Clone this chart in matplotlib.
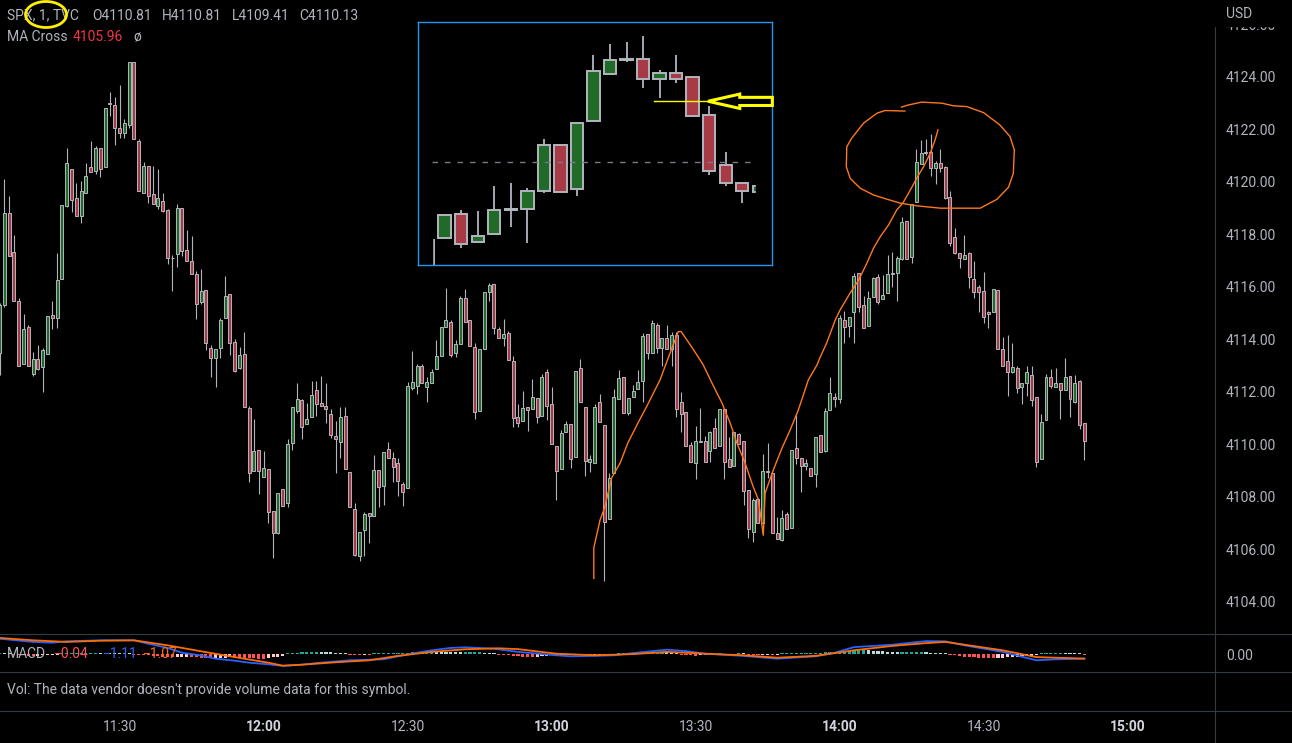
import numpy as np
import matplotlib.pyplot as plt
from matplotlib.patches import Rectangle, Ellipse, Polygon
from matplotlib.lines import Line2D

# 1-min SPX candles, first candle is 11:05 (minute 5 after 11:00)
first_minute = 5
opens = [
    4113.50, 4115.31, 4118.81, 4117.32, 4115.48, 4113.07, 4114.46, 4112.69, 4113.26, 4112.94,
    4113.44, 4114.93, 4114.81, 4116.29, 4119.10, 4120.50, 4119.38, 4118.72, 4119.59, 4120.58,
    4120.43, 4121.28, 4120.58, 4122.95, 4122.93, 4122.04, 4121.88, 4122.15, 4124.56, 4121.57,
    4119.59, 4120.61, 4119.54, 4119.10, 4119.28, 4118.93, 4117.12, 4117.24, 4119.00, 4117.41,
    4116.99, 4116.50, 4115.42, 4115.89, 4113.69, 4113.28, 4113.66, 4114.81, 4115.72, 4113.89,
    4112.90, 4113.45, 4111.40, 4108.99, 4109.79, 4108.75, 4109.07, 4107.47, 4106.64, 4108.29,
    4107.76, 4110.04, 4111.29, 4111.69, 4110.77, 4111.04, 4112.08, 4111.57, 4111.47, 4111.16,
    4110.32, 4110.11, 4111.09, 4108.94, 4107.53, 4105.75, 4106.74, 4107.40, 4107.29, 4109.03,
    4108.43, 4109.83, 4109.47, 4109.28, 4108.50, 4108.33, 4112.14, 4112.24, 4112.99, 4112.20,
    4112.33, 4112.86, 4113.37, 4114.49, 4114.65, 4113.47, 4113.83, 4115.57, 4114.74, 4113.70,
    4111.28, 4113.63, 4115.79, 4116.11, 4114.39, 4114.07, 4114.24, 4113.18, 4111.04, 4110.91,
    4111.42, 4111.34, 4111.76, 4111.10, 4112.75, 4111.53, 4109.94, 4109.05, 4110.46, 4110.77,
    4109.51, 4112.90, 4111.42, 4109.32, 4109.31, 4111.60, 4110.74, 4107.15, 4108.90, 4111.73,
    4112.56, 4111.21, 4111.80, 4112.10, 4112.43, 4114.20, 4113.50, 4114.55, 4113.66, 4114.04,
    4113.63, 4114.17, 4111.60, 4111.23, 4109.98, 4109.28, 4110.14, 4110.14, 4109.75, 4110.62,
    4109.96, 4111.34, 4109.43, 4109.18, 4110.39, 4110.13, 4108.27, 4106.68, 4107.91, 4107.02,
    4108.96, 4108.93, 4106.64, 4106.36, 4107.34, 4106.81, 4109.88, 4109.47, 4109.19, 4109.09,
    4108.86, 4110.36, 4109.75, 4111.31, 4111.80, 4111.72, 4114.74, 4114.53, 4115.06, 4116.52,
    4115.31, 4114.53, 4115.63, 4116.37, 4115.53, 4115.76, 4116.50, 4116.52, 4117.07, 4118.50,
    4117.13, 4119.23, 4120.67, 4121.09, 4121.13, 4120.52, 4120.71, 4120.58, 4119.42, 4117.89,
    4117.31, 4117.05, 4117.28, 4116.30, 4115.99, 4115.85, 4115.04, 4115.04, 4115.89, 4113.64,
    4113.18, 4112.77, 4112.93, 4112.20, 4112.33, 4112.65, 4111.80, 4109.43, 4110.93, 4112.56,
    4112.20, 4112.33, 4112.08, 4112.61, 4111.61, 4112.42, 4110.81,
]
highs = [
    4115.38, 4120.11, 4119.47, 4117.98, 4115.57, 4114.97, 4114.55, 4113.51, 4113.77, 4113.66,
    4114.90, 4115.48, 4117.28, 4119.12, 4121.31, 4120.50, 4119.95, 4120.04, 4120.74, 4121.57,
    4121.35, 4121.31, 4122.81, 4123.44, 4123.25, 4123.70, 4122.40, 4124.56, 4124.56, 4121.63,
    4120.77, 4120.61, 4120.61, 4120.50, 4119.57, 4118.96, 4117.22, 4119.16, 4119.00, 4118.17,
    4117.94, 4116.62, 4116.69, 4115.89, 4113.77, 4113.64, 4114.81, 4116.42, 4115.72, 4114.02,
    4113.70, 4114.30, 4111.47, 4110.97, 4109.79, 4109.75, 4109.07, 4107.47, 4108.14, 4108.29,
    4110.20, 4111.42, 4112.33, 4111.72, 4111.57, 4112.42, 4112.42, 4112.61, 4112.33, 4111.34,
    4110.90, 4111.42, 4111.42, 4108.94, 4107.76, 4106.65, 4107.44, 4107.40, 4109.60, 4109.03,
    4109.70, 4110.08, 4109.73, 4109.47, 4108.58, 4112.39, 4113.56, 4113.05, 4113.05, 4112.58,
    4112.86, 4113.98, 4114.47, 4115.95, 4114.74, 4113.98, 4115.66, 4115.91, 4114.74, 4113.86,
    4113.63, 4115.79, 4116.14, 4116.11, 4114.49, 4114.77, 4114.32, 4113.37, 4111.54, 4112.04,
    4111.42, 4112.50, 4111.76, 4112.69, 4112.86, 4112.18, 4109.94, 4110.55, 4110.90, 4110.77,
    4112.80, 4113.24, 4111.42, 4109.60, 4111.53, 4111.92, 4110.74, 4108.93, 4112.10, 4112.84,
    4112.56, 4111.76, 4112.27, 4112.84, 4114.24, 4114.20, 4114.74, 4114.62, 4114.07, 4114.55,
    4114.30, 4114.30, 4112.01, 4111.23, 4110.11, 4110.70, 4111.38, 4110.32, 4110.52, 4111.00,
    4111.34, 4111.34, 4110.30, 4110.49, 4110.45, 4110.13, 4108.27, 4107.95, 4107.95, 4109.62,
    4110.04, 4108.93, 4107.25, 4107.50, 4107.41, 4109.79, 4111.12, 4109.47, 4109.44, 4109.09,
    4110.30, 4110.36, 4111.40, 4112.58, 4111.95, 4114.93, 4115.10, 4114.87, 4116.52, 4116.52,
    4115.66, 4115.85, 4116.37, 4116.50, 4116.46, 4117.22, 4117.32, 4117.18, 4118.68, 4118.50,
    4119.16, 4121.24, 4121.60, 4121.64, 4121.82, 4120.80, 4121.24, 4120.61, 4119.67, 4118.26,
    4117.31, 4117.98, 4117.32, 4116.99, 4116.08, 4116.56, 4115.09, 4115.91, 4115.89, 4114.08,
    4114.17, 4113.85, 4112.99, 4112.33, 4112.99, 4113.00, 4111.80, 4111.16, 4112.69, 4112.86,
    4112.90, 4112.33, 4113.28, 4112.61, 4112.65, 4112.46, 4110.81,
]
lows = [
    4112.65, 4115.25, 4117.19, 4115.48, 4113.00, 4113.07, 4113.00, 4112.61, 4112.84, 4112.01,
    4113.44, 4114.39, 4114.43, 4116.29, 4119.06, 4118.87, 4118.72, 4118.45, 4119.59, 4120.39,
    4120.30, 4120.17, 4120.58, 4122.53, 4121.41, 4121.66, 4121.66, 4122.07, 4121.63, 4119.67,
    4119.59, 4119.21, 4119.15, 4118.96, 4118.87, 4116.86, 4115.86, 4116.77, 4117.18, 4116.97,
    4116.48, 4114.77, 4115.35, 4113.60, 4112.56, 4112.18, 4113.28, 4114.81, 4113.39, 4112.75,
    4112.88, 4111.44, 4108.58, 4108.99, 4108.12, 4108.75, 4107.02, 4105.66, 4106.58, 4107.67,
    4107.63, 4109.79, 4111.21, 4110.20, 4110.77, 4111.04, 4111.10, 4111.48, 4110.83, 4110.24,
    4108.90, 4109.50, 4109.05, 4107.63, 4105.75, 4105.57, 4105.75, 4106.24, 4107.29, 4107.63,
    4107.70, 4109.50, 4108.58, 4108.05, 4107.67, 4108.33, 4112.08, 4111.92, 4112.36, 4111.63,
    4112.33, 4112.86, 4113.37, 4114.49, 4113.32, 4113.32, 4113.83, 4114.65, 4113.75, 4110.96,
    4111.28, 4113.63, 4115.48, 4114.20, 4114.05, 4113.75, 4113.22, 4110.68, 4110.68, 4110.91,
    4110.51, 4111.34, 4110.83, 4111.10, 4110.93, 4110.01, 4107.89, 4109.05, 4110.46, 4109.09,
    4109.51, 4111.60, 4108.78, 4108.94, 4109.31, 4110.87, 4104.78, 4107.15, 4108.90, 4111.73,
    4111.21, 4111.12, 4111.80, 4112.10, 4111.63, 4113.24, 4113.50, 4113.47, 4112.97, 4113.63,
    4112.97, 4111.04, 4110.49, 4109.95, 4109.35, 4108.67, 4110.11, 4109.32, 4109.32, 4109.85,
    4109.96, 4108.68, 4109.16, 4109.18, 4110.02, 4107.70, 4106.43, 4106.30, 4107.02, 4106.55,
    4108.74, 4106.64, 4106.39, 4106.34, 4106.77, 4106.81, 4109.24, 4108.17, 4109.03, 4108.79,
    4108.39, 4109.73, 4109.73, 4111.31, 4111.44, 4111.57, 4113.88, 4114.08, 4113.85, 4115.04,
    4114.45, 4114.53, 4115.63, 4115.34, 4115.53, 4115.76, 4115.99, 4115.48, 4117.03, 4117.05,
    4116.93, 4119.23, 4120.67, 4121.03, 4120.24, 4119.92, 4120.39, 4119.35, 4117.57, 4117.24,
    4116.71, 4117.05, 4115.95, 4115.59, 4115.04, 4114.64, 4114.42, 4115.04, 4113.62, 4113.00,
    4111.85, 4112.71, 4111.97, 4111.53, 4111.85, 4111.47, 4109.13, 4109.43, 4110.93, 4112.14,
    4112.20, 4110.96, 4112.08, 4111.03, 4111.57, 4110.58, 4109.41,
]
closes = [
    4115.30, 4118.81, 4117.19, 4115.48, 4113.00, 4114.40, 4113.00, 4113.26, 4112.88, 4113.60,
    4114.90, 4114.81, 4116.27, 4119.12, 4120.71, 4119.31, 4118.72, 4119.66, 4120.23, 4120.39,
    4121.31, 4120.50, 4122.81, 4122.99, 4122.07, 4121.85, 4122.26, 4124.56, 4121.63, 4119.67,
    4120.61, 4119.48, 4119.15, 4119.38, 4118.91, 4117.12, 4117.10, 4119.00, 4117.35, 4116.97,
    4116.48, 4115.34, 4115.86, 4113.85, 4113.28, 4113.64, 4114.74, 4115.66, 4113.85, 4112.81,
    4113.41, 4111.44, 4108.93, 4109.75, 4108.99, 4109.09, 4107.44, 4106.64, 4108.14, 4107.67,
    4110.02, 4111.42, 4111.72, 4110.65, 4110.96, 4111.89, 4111.53, 4111.48, 4111.34, 4110.36,
    4110.20, 4111.06, 4109.05, 4107.63, 4105.79, 4106.65, 4107.34, 4107.29, 4109.03, 4108.39,
    4109.70, 4109.50, 4109.14, 4108.62, 4108.17, 4112.24, 4112.37, 4112.99, 4112.36, 4112.37,
    4112.75, 4113.37, 4114.47, 4114.74, 4113.41, 4113.83, 4115.57, 4114.65, 4113.75, 4111.25,
    4113.63, 4115.79, 4116.08, 4114.43, 4114.05, 4114.20, 4113.22, 4111.00, 4110.81, 4111.38,
    4111.31, 4111.80, 4111.06, 4112.56, 4111.48, 4110.01, 4109.00, 4110.42, 4110.77, 4109.44,
    4112.80, 4111.60, 4109.38, 4109.44, 4111.42, 4110.87, 4107.06, 4108.71, 4111.80, 4112.52,
    4111.21, 4111.76, 4112.05, 4112.39, 4114.13, 4113.47, 4114.62, 4113.66, 4114.04, 4113.63,
    4114.17, 4111.34, 4111.15, 4109.95, 4109.35, 4110.14, 4110.11, 4109.32, 4110.49, 4109.85,
    4111.34, 4109.35, 4109.16, 4110.49, 4110.02, 4108.24, 4106.77, 4107.89, 4107.02, 4108.99,
    4108.99, 4106.64, 4106.39, 4107.19, 4106.77, 4109.79, 4109.47, 4109.19, 4109.31, 4108.79,
    4110.30, 4109.73, 4111.28, 4111.95, 4111.72, 4114.81, 4114.49, 4114.87, 4116.42, 4115.25,
    4114.45, 4115.57, 4116.33, 4115.44, 4115.70, 4116.50, 4116.52, 4117.09, 4118.49, 4117.05,
    4119.16, 4120.75, 4121.09, 4121.13, 4120.52, 4120.71, 4120.52, 4119.38, 4117.69, 4117.31,
    4117.09, 4117.22, 4116.36, 4115.80, 4115.82, 4114.87, 4114.96, 4115.91, 4113.62, 4113.00,
    4112.77, 4112.94, 4112.14, 4112.33, 4112.75, 4111.70, 4109.32, 4110.84, 4112.56, 4112.23,
    4112.33, 4112.08, 4112.56, 4111.72, 4112.33, 4110.74, 4110.13,
]

# MACD (12, 26, 9)
macd_minutes = [5, 12, 16, 19, 26, 33, 36, 40, 43, 47, 50, 54, 57, 61, 64, 68, 71, 75, 78, 82,
                85, 88, 92, 95, 99, 102, 108, 113, 121, 124, 129, 133, 137, 144, 148, 152, 160,
                167, 175, 179, 183, 191, 198, 202, 206, 214, 221, 225, 231]
macd_values = [3.9, 3.1, 2.9, 3.25, 3.5, 3.5, 2.65, 1.6, 0.4, -0.3, -1.1, -1.6, -2.1, -2.5, -2.9,
               -2.6, -2.2, -1.8, -1.5, -1.35, -1.25, -0.5, 0.4, 1.0, 1.6, 1.75, 1.4, 0.6, -0.25,
               -0.5, -0.4, -0.25, 0.3, 1.15, 0.8, 0.15, -0.4, -1.1, -0.5, 0.4, 1.8, 2.4, 3.3,
               3.25, 2.25, 0.6, -1.5, -1.25, -1.11]
signal_minutes = [5, 12, 19, 26, 33, 40, 47, 54, 61, 64, 68, 75, 82, 88, 95, 102, 109, 113, 121,
                  129, 137, 144, 152, 160, 167, 175, 183, 191, 198, 202, 206, 214, 221, 231]
signal_values = [4.1, 3.5, 3.1, 3.4, 3.5, 2.25, 0.75, -0.7, -2.1, -2.85, -2.6, -2.0, -1.5, -0.4,
                 0.6, 1.25, 1.5, 1.3, 0.15, -0.25, 0.05, 0.6, 0.15, -0.25, -0.85, -0.4, 1.0, 2.1,
                 2.8, 3.1, 2.4, 1.0, -0.7, -1.07]
hist_values = [
    0.10, 0.05, 0.00, -0.10, -0.20, -0.30, -0.35, -0.40, -0.35, -0.30,
    -0.20, -0.15, -0.10, 0.00, 0.05, 0.10, 0.15, 0.20, 0.25, 0.30,
    0.30, 0.25, 0.20, 0.15, 0.10, 0.05, 0.05, 0.00, -0.05, -0.05,
    -0.10, -0.20, -0.35, -0.50, -0.60, -0.70, -0.75, -0.70, -0.65, -0.60,
    -0.70, -0.80, -0.90, -0.95, -1.00, -0.95, -0.90, -0.85, -0.80, -0.85,
    -0.90, -0.95, -1.00, -1.05, -1.10, -1.10, -1.00, -0.80, -0.60, -0.35,
    0.10, 0.25, 0.40, 0.50, 0.60, 0.65, 0.70, 0.65, 0.60, 0.50,
    0.40, 0.30, 0.15, -0.05, -0.10, -0.10, -0.05, -0.05, 0.05, 0.10,
    0.15, 0.20, 0.25, 0.30, 0.35, 0.45, 0.55, 0.65, 0.70, 0.75,
    0.80, 0.75, 0.70, 0.65, 0.60, 0.55, 0.50, 0.55, 0.60, 0.60,
    0.62, 0.40, 0.20, 0.00, -0.10, -0.20, -0.30, -0.40, -0.50, -0.60,
    -0.65, -0.70, -0.60, -0.50, -0.40, -0.30, -0.35, -0.40, -0.30, -0.20,
    -0.15, -0.10, -0.15, -0.20, -0.10, -0.05, -0.10, -0.15, -0.05, 0.10,
    0.20, 0.30, 0.40, 0.45, 0.50, 0.55, 0.60, 0.65, 0.70, 0.60,
    0.50, 0.30, -0.10, -0.20, -0.30, -0.35, -0.30, -0.20, -0.10, -0.05,
    0.05, -0.05, -0.10, -0.05, 0.05, 0.02, -0.05, -0.10, -0.15, -0.10,
    -0.05, -0.10, -0.05, 0.10, 0.15, 0.20, 0.25, 0.30, 0.30, 0.35,
    0.40, 0.45, 0.50, 0.55, 0.60, 0.70, 0.80, 0.90, 1.00, 1.05,
    1.10, 1.00, 0.95, 0.90, 0.80, 0.70, 0.60, 0.50, 0.55, 0.60,
    0.60, 0.65, 0.65, 0.55, 0.45, 0.35, 0.25, 0.10, -0.10, -0.30,
    -0.45, -0.60, -0.70, -0.80, -0.85, -0.90, -0.95, -1.00, -0.95, -0.90,
    -0.80, -0.70, -0.60, -0.50, -0.40, -0.35, -0.30, 0.02, 0.05, 0.08,
    0.10, 0.12, 0.10, 0.08, 0.05, 0.02, -0.04,
]

# hand drawn orange strokes (minute, price)
trend_minutes = [128.8, 128.8, 130.1, 131.1, 132.5, 134.3, 135.9, 138.0, 139.8, 142.6,
                 144.0, 146.4, 147.0, 149.6, 151.6, 153.6, 155.5, 157.2, 158.6, 160.3,
                 162.0, 163.1, 164.1, 164.5, 166.2, 168.0, 169.7, 171.4, 173.5, 175.3,
                 175.9, 177.3, 179.1, 180.1, 182.2, 184.0, 185.7, 187.1, 188.5, 190.2,
                 191.9, 193.2, 194.4, 196.1, 197.5, 198.9, 199.9, 200.5]
trend_prices = [4104.90, 4106.06, 4107.12, 4107.62, 4108.72, 4109.30, 4110.06, 4110.82, 4111.44, 4112.46,
                4113.15, 4114.30, 4114.30, 4113.60, 4113.03, 4112.27, 4111.58, 4110.82, 4110.06, 4109.30,
                4108.39, 4107.89, 4106.55, 4108.15, 4109.03, 4109.86, 4110.55, 4111.31, 4112.46, 4113.03,
                4113.30, 4113.86, 4114.74, 4115.12, 4115.77, 4116.27, 4116.91, 4117.49, 4117.92, 4118.36,
                4118.93, 4119.20, 4119.58, 4120.15, 4120.58, 4121.10, 4121.60, 4121.98]
circle_minutes = [193.6, 189.5, 187.8, 185.0, 182.5, 181.5, 181.4, 182.2, 184.3, 187.1,
                  189.9, 192.7, 196.1, 201.0, 209.3, 212.8, 215.2, 216.2, 216.4, 215.5,
                  213.4, 210.0, 206.5, 203.7, 201.3, 197.1, 194.3, 192.9]
circle_prices = [4122.70, 4122.72, 4122.62, 4122.24, 4121.66, 4121.34, 4120.58, 4120.14, 4119.76, 4119.50,
                 4119.34, 4119.19, 4119.09, 4119.00, 4119.00, 4119.34, 4119.80, 4120.33, 4121.22, 4121.73,
                 4122.17, 4122.64, 4122.87, 4122.90, 4123.00, 4123.04, 4122.93, 4122.85]

# zoomed inset (screenshot of the top)
inset_arrow_minutes = [202.93, 204.85, 204.85, 206.82, 206.82, 204.85, 204.85]
inset_arrow_prices = [4119.83, 4120.05, 4119.95, 4119.95, 4119.70, 4119.70, 4119.61]
inset_mark_price = 4119.84
inset_dash_price = 4117.96

price_ticks = [4104, 4106, 4108, 4110, 4112, 4114, 4116, 4118, 4120, 4122, 4124, 4126]
time_ticks = [30, 60, 90, 120, 150, 180, 210, 240]
time_labels = ['11:30', '12:00', '12:30', '13:00', '13:30', '14:00', '14:30', '15:00']

W, H = 1292, 743
BG = '#000000'
GREEN = '#1f6b27'
RED = '#a83a45'
EDGE = '#b2b5be'
TXT = '#b2b5be'
SEP = '#363a45'

plt.rcParams['font.family'] = ['Roboto', 'DejaVu Sans']
plt.rcParams['font.size'] = 10


def px_axes(fig, x0, y0, x1, y1):
    a = fig.add_axes([x0 / W, 1 - y1 / H, (x1 - x0) / W, (y1 - y0) / H])
    a.set_facecolor(BG)
    for s in a.spines.values():
        s.set_visible(False)
    a.set_xticks([])
    a.set_yticks([])
    return a


def draw_candles(a, x, o, h, l, c, body_w, edge_lw, wick_lw):
    up = c >= o
    a.vlines(x, l, h, color=EDGE, lw=wick_lw, zorder=2)
    bottom = np.minimum(o, c)
    height = np.maximum(np.abs(c - o), 0.01)
    a.bar(x, height, bottom=bottom, width=body_w, color=np.where(up, GREEN, RED),
          edgecolor=EDGE, linewidth=edge_lw, zorder=3)


def main():
    o = np.array(opens)
    h = np.array(highs)
    l = np.array(lows)
    c = np.array(closes)
    x = np.arange(first_minute, first_minute + len(o))

    fig = plt.figure(figsize=(W / 100, H / 100), dpi=100, facecolor=BG)

    # price pane
    ax = px_axes(fig, 0, 0, 1214, 634)
    draw_candles(ax, x, o, h, l, c, 0.62, 0.7, 0.8)
    ax.plot(trend_minutes, trend_prices, color='#ff781e', lw=1.0, zorder=4)
    ax.plot(circle_minutes, circle_prices, color='#ff781e', lw=1.0, zorder=4)
    ax.set_xlim(5.10, 258.0)
    ax.set_ylim(4102.78, 4126.93)
    ax.yaxis.tick_right()
    ax.set_yticks(price_ticks)
    ax.set_yticklabels(['%.2f' % p for p in price_ticks])
    ax.tick_params(axis='y', length=0, pad=8.6, labelcolor=TXT, labelsize=10)

    # MACD pane
    am = px_axes(fig, 0, 634, 1214, 672)
    hv = np.array(hist_values)
    prev = np.concatenate([[hv[0]], hv[:-1]])
    cols = np.where(hv >= 0, np.where(hv >= prev, '#26a69a', '#b2dfdb'),
                    np.where(hv > prev, '#ffcdd2', '#ff5252'))
    shown = np.where(hv >= 0, 1, -1) * np.maximum(np.abs(hv), 0.22)
    am.bar(x, shown, width=0.65, color=cols, zorder=2)
    am.plot(macd_minutes, macd_values, color='#2962ff', lw=1.3, zorder=3)
    am.plot(signal_minutes, signal_values, color='#ff6d00', lw=1.3, zorder=4)
    am.set_xlim(5.10, 258.0)
    am.set_ylim(-4.43, 5.08)
    am.yaxis.tick_right()
    am.set_yticks([0])
    am.set_yticklabels(['0.00'])
    am.tick_params(axis='y', length=0, pad=8.6, labelcolor=TXT, labelsize=10)

    # volume pane (empty) and time axis
    px_axes(fig, 0, 672, 1214, 711)
    at = px_axes(fig, 0, 711, 1214, 743)
    at.set_xlim(5.10, 258.0)
    for m, lab in zip(time_ticks, time_labels):
        bold = lab.endswith(':00')
        at.text(m, 0.5, lab, transform=at.get_xaxis_transform(), ha='center', va='center',
                color='#d1d4dc' if bold else TXT, fontweight='bold' if bold else 'normal',
                fontsize=10)

    # inset
    ai = px_axes(fig, 418, 22, 772, 265)
    draw_candles(ai, x, o, h, l, c, 0.75, 1.4, 1.3)
    ai.set_xlim(185.385, 206.80)
    ai.set_ylim(4114.81, 4122.26)
    ai.add_patch(Rectangle((185.385, 4114.81), 186.23 - 185.385, 8, color=BG, zorder=4))
    ai.add_patch(Rectangle((205.83, 4114.81), 206.80 - 205.83, 8, color=BG, zorder=4))
    ai.plot([186.23, 205.55], [inset_dash_price] * 2, color='#787b86', lw=1.0,
            dashes=(4, 5), zorder=5)
    ai.plot([199.66, inset_arrow_minutes[0]], [inset_mark_price] * 2, color='#ffff00',
            lw=1.0, zorder=6)
    ai.add_patch(Polygon(list(zip(inset_arrow_minutes, inset_arrow_prices)), closed=True,
                         fill=False, ec='#ffff00', lw=2.2, zorder=11, clip_on=False))
    for s in ai.spines.values():
        s.set_visible(True)
        s.set_color('#2196f3')
        s.set_linewidth(1.0)
        s.set_zorder(10)

    # pane separators
    for yy in [634, 672, 711]:
        fig.add_artist(Line2D([0, 1], [1 - yy / H] * 2, transform=fig.transFigure,
                              color=SEP, lw=0.8))
    fig.add_artist(Line2D([1214.5 / W] * 2, [0, 1], transform=fig.transFigure,
                          color=SEP, lw=0.8))
    fig.add_artist(Rectangle((1215 / W, 1 - 26 / H), 77 / W, 26 / H, transform=fig.transFigure,
                             color=BG, zorder=5))
    fig.text(1226 / W, 1 - 14 / H, 'USD', color=TXT, va='center', fontsize=10, zorder=6)

    # legends
    def ftext(xp, yp, s, color=TXT):
        fig.text(xp / W, 1 - yp / H, s, color=color, va='center', ha='left', fontsize=10, zorder=6)

    ftext(7, 15.7, 'SPX, 1, TVC')
    ftext(92, 15.7, 'O4110.81')
    ftext(162, 15.7, 'H4110.81')
    ftext(232, 15.7, 'L4109.41')
    ftext(299, 15.7, 'C4110.13')
    ftext(7, 36.7, 'MA Cross')
    ftext(73, 36.7, '4105.96', '#f23645')
    ftext(133, 36.7, 'ø')
    fig.add_artist(Ellipse((46 / W, 1 - 14.5 / H), 41 / W, 26 / H, transform=fig.transFigure,
                           fill=False, ec='#ffee00', lw=2.0, zorder=7))

    ftext(7, 654, 'MACD')
    ftext(54, 654, '\u22120.04', '#ff5252')
    ftext(103, 654, '\u22121.11', '#2962ff')
    ftext(143, 654, '\u22121.07', '#ff6d00')
    ftext(7, 690, "Vol: The data vendor doesn't provide volume data for this symbol.")

    fig.savefig('out.png', dpi=100, facecolor=BG)


if __name__ == '__main__':
    main()
